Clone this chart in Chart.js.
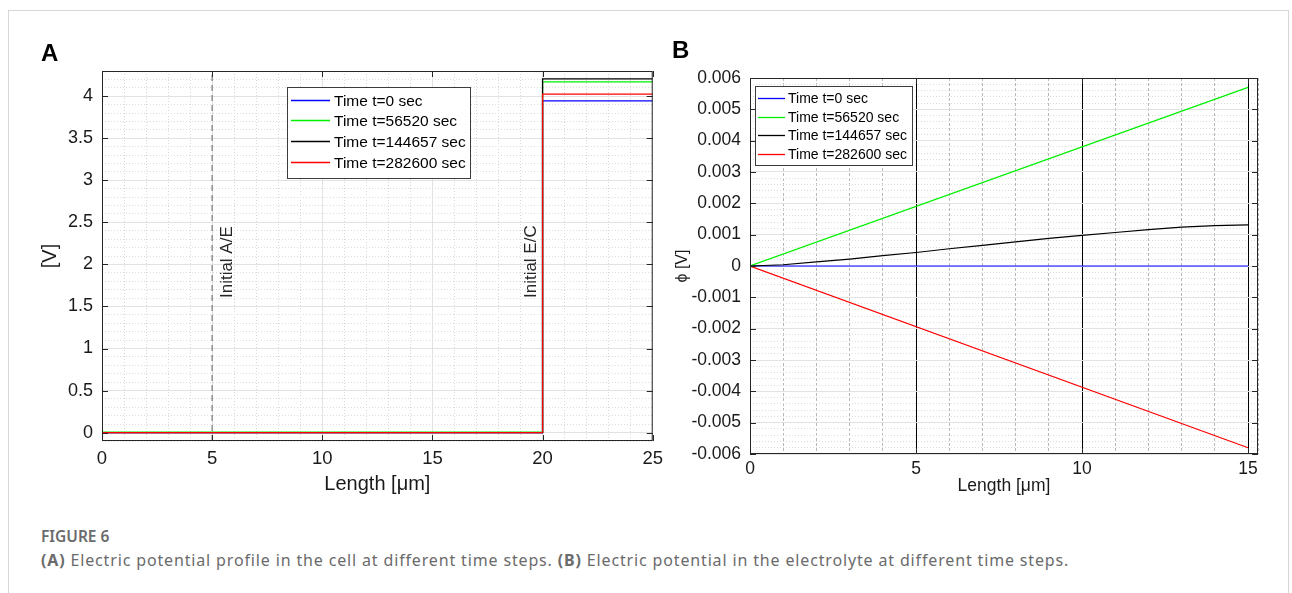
<!DOCTYPE html>
<html>
<head>
  <meta charset="UTF-8">
  <script src="https://cdn.jsdelivr.net/npm/chart.js@4.4.0/dist/chart.umd.min.js"></script>
  <style>
    body { margin: 0; background: #fff; width: 1292px; height: 593px; position: relative; overflow: hidden; }
    .frame { position: absolute; left: 8px; top: 10px; width: 1279px; height: 600px; border: 1px solid #d6d6d6; }
    canvas { position: absolute; top: 0; }
    .tag { position: absolute; font: bold 24px "Liberation Sans", Arial, sans-serif; color: #000; }
    .cap { position: absolute; left: 41px; font-family: "Noto Sans", sans-serif; color: #6b6b6b; white-space: nowrap; }
  </style>
</head>
<body>
  <div class="frame"></div>
  <canvas id="chartA" width="670" height="520" style="left:0px"></canvas>
  <canvas id="chartB" width="632" height="520" style="left:660px"></canvas>
  <div class="tag" style="left:41px; top:39px">A</div>
  <div class="tag" style="left:672px; top:36px">B</div>
  <div class="cap" style="top:525px; font-size:15.5px; font-weight:600">FIGURE 6</div>
  <div class="cap" style="top:549px; font-size:16px; letter-spacing:0.85px"><b>(A)</b> Electric potential profile in the cell at different time steps. <b>(B)</b> Electric potential in the electrolyte at different time steps.</div>

<script>
const FONT = '"Liberation Sans", Arial, sans-serif';
const seriesLabels = ['Time t=0 sec', 'Time t=56520 sec', 'Time t=144657 sec', 'Time t=282600 sec'];
const seriesColors = ['#0000ff', '#00f000', '#000000', '#ff0000'];

// panel A - potential across the cell
const lenA = [0, 20, 20, 25];
const vBlueA = [0, 0, 3.945, 3.945];
const vGreenA = [0.005, 0.005, 4.171, 4.171];
const vBlackA = [0, 0, 4.207, 4.207];
const vRedA = [0, 0, 4.024, 4.024];
const xTicksA = [0, 5, 10, 15, 20, 25];
const yTicksA = [0, 0.5, 1, 1.5, 2, 2.5, 3, 3.5, 4];
const xRangeA = [0, 25];
const yRangeA = [-0.1, 4.3];
const dashedAtA = [5];
const notesA = [{ at: 5, text: 'Initial A/E', side: 1 }, { at: 20, text: 'Initial E/C', side: -1 }];
const noteStartA = 1.6;

// panel B - potential in the electrolyte
const lenB = [0, 1, 2, 3, 4, 5, 6, 7, 8, 9, 10, 11, 12, 13, 14, 15];
const phiBlackB = [0, 0.00004, 0.00013, 0.00022, 0.00033, 0.00043, 0.00055, 0.00066, 0.00077, 0.00088, 0.00098, 0.00107, 0.00116, 0.00124, 0.00129, 0.00131];
const lenEndsB = [0, 15];
const phiBlueB = [0, 0];
const phiGreenB = [0, 0.0057];
const phiRedB = [0, -0.0058];
const xTicksB = [0, 5, 10, 15];
const yTicksB = [-0.006, -0.005, -0.004, -0.003, -0.002, -0.001, 0, 0.001, 0.002, 0.003, 0.004, 0.005, 0.006];
const xRangeB = [0, 15.3];
const yRangeB = [-0.006, 0.006];

function pts(xs, ys) { return xs.map((x, i) => ({ x: x, y: ys[i] })); }

function series(list, xs, width) {
  return list.map((ys, i) => ({
    label: seriesLabels[i],
    data: pts(Array.isArray(xs[0]) ? xs[i] : xs, ys),
    borderColor: seriesColors[i],
    borderWidth: width,
    pointRadius: 0,
    fill: false,
    order: 3 - i
  }));
}

const panelDecor = {
  id: 'panelDecor',
  afterDatasetsDraw(chart, args, o) {
    const { ctx, chartArea: a, scales } = chart;
    const line = (x1, y1, x2, y2) => { ctx.beginPath(); ctx.moveTo(x1, y1); ctx.lineTo(x2, y2); ctx.stroke(); };
    ctx.save();
    ctx.strokeStyle = '#262626';
    ctx.lineWidth = 1;
    ctx.strokeRect(a.left + 0.5, a.top + 0.5, a.right - a.left - 1, a.bottom - a.top - 1);
    scales.x.ticks.forEach(t => {
      const p = Math.round(scales.x.getPixelForValue(t.value)) + 0.5;
      line(p, a.bottom, p, a.bottom - 6); line(p, a.top, p, a.top + 6);
    });
    scales.y.ticks.forEach(t => {
      const p = Math.round(scales.y.getPixelForValue(t.value)) + 0.5;
      line(a.left, p, a.left + 6, p); line(a.right, p, a.right - 6, p);
    });
    (o.notes || []).forEach(n => {
      ctx.save();
      ctx.translate(scales.x.getPixelForValue(n.at) + n.side * o.noteGap[n.side > 0 ? 0 : 1], scales.y.getPixelForValue(o.noteStart));
      ctx.rotate(-Math.PI / 2);
      ctx.font = o.noteFont; ctx.fillStyle = '#262626';
      ctx.textAlign = 'left'; ctx.textBaseline = 'middle';
      ctx.fillText(n.text, 0, 0);
      ctx.restore();
    });
    const L = o.legend;
    const bx = a.left + L.dx, by = a.top + L.dy;
    ctx.fillStyle = '#fff';
    ctx.fillRect(bx, by, L.w, L.h);
    ctx.strokeStyle = '#3c3c3c';
    ctx.strokeRect(bx + 0.5, by + 0.5, L.w, L.h);
    ctx.font = L.font; ctx.textBaseline = 'middle'; ctx.textAlign = 'left';
    seriesLabels.forEach((lab, i) => {
      const ds = chart.data.datasets[i];
      const y = Math.round(by + L.first + i * L.step) + 0.5;
      ctx.strokeStyle = ds.borderColor; ctx.lineWidth = 1.3;
      line(bx + L.l0, y, bx + L.l1, y);
      ctx.fillStyle = '#000';
      ctx.fillText(lab, bx + L.tx, y + 1);
    });
    ctx.restore();
  }
};

function scalesFor(o) {
  return {
    xMinor: {
      type: 'linear', position: 'top', min: o.xr[0], max: o.xr[1], z: -1,
      afterFit: s => { s.height = 0; },
      ticks: { display: false, stepSize: o.xMinorStep },
      grid: { color: o.xMinorColor, drawTicks: false },
      border: { display: false, dash: o.xMinorDash }
    },
    yMinor: {
      type: 'linear', position: 'right', min: o.yr[0], max: o.yr[1], z: -1,
      afterFit: s => { s.width = 0; },
      ticks: { display: false, stepSize: o.yMinorStep },
      grid: { color: '#dcdcdc', drawTicks: false },
      border: { display: false, dash: [1, 2] }
    },
    x: {
      type: 'linear', position: 'bottom', min: o.xr[0], max: o.xr[1],
      afterBuildTicks: s => { s.ticks = o.xt.map(v => ({ value: v })); },
      afterFit: s => { s.height = o.xh; },
      grid: { color: o.xGridColor, drawTicks: false },
      border: { display: false },
      ticks: { color: '#1a1a1a', font: { family: FONT, size: o.xfs }, padding: o.xtp, maxRotation: 0, autoSkip: false, callback: v => String(v) },
      title: { display: true, text: 'Length [\u03bcm]', color: '#1a1a1a', font: { family: FONT, size: o.tfs }, padding: { top: o.xTitlePad, bottom: o.xTitlePad } }
    },
    y: {
      type: 'linear', position: 'left', min: o.yr[0], max: o.yr[1],
      afterBuildTicks: s => { s.ticks = o.yt.map(v => ({ value: v })); },
      afterFit: s => { s.width = o.yw; },
      grid: { color: '#e2e2e2', drawTicks: false },
      border: { display: false },
      ticks: { color: '#1a1a1a', font: { family: FONT, size: o.yfs }, padding: 9, autoSkip: false, callback: v => String(v) },
      title: { display: true, text: o.yTitle, color: '#1a1a1a', font: { family: FONT, size: o.ytfs }, padding: { top: o.yTitlePad, bottom: o.yTitlePad } }
    }
  };
}

new Chart(document.getElementById('chartA'), {
  type: 'line',
  data: {
    datasets: series([vBlueA, vGreenA, vBlackA, vRedA], lenA, 1.3).concat(dashedAtA.map(x => ({
      data: pts([x, x], yRangeA),
      borderColor: '#808080', borderWidth: 1.3, borderDash: [6, 4], pointRadius: 0, order: 5
    })))
  },
  options: {
    responsive: false, animation: false, devicePixelRatio: 1,
    layout: { padding: { left: 0, top: 71, right: 16, bottom: 0 } },
    plugins: {
      legend: { display: false }, tooltip: { enabled: false },
      panelDecor: {
        notes: notesA, noteStart: noteStartA, noteGap: [15, 11], noteFont: '17px ' + FONT,
        legend: { dx: 185, dy: 16, w: 183, h: 91, first: 12.5, step: 20.8, l0: 4, l1: 43, tx: 47, font: '15.5px ' + FONT }
      }
    },
    scales: scalesFor({
      xr: xRangeA, yr: yRangeA, xt: xTicksA, yt: yTicksA, xMinorStep: 1, yMinorStep: 0.1,
      xMinorColor: '#d8d8d8', xMinorDash: [1, 2], xGridColor: '#e2e2e2',
      xh: 79, yw: 102, xfs: 18.5, yfs: 18, tfs: 20, ytfs: 20, xtp: 7, xTitlePad: 24, yTitlePad: 38, yTitle: '[V]'
    })
  },
  plugins: [panelDecor]
});

new Chart(document.getElementById('chartB'), {
  type: 'line',
  data: {
    datasets: series([phiBlueB, phiGreenB, phiBlackB, phiRedB], [lenEndsB, lenEndsB, lenB, lenEndsB], 1.2)
  },
  options: {
    responsive: false, animation: false, devicePixelRatio: 1,
    layout: { padding: { left: 0, top: 78, right: 34, bottom: 0 } },
    plugins: {
      legend: { display: false }, tooltip: { enabled: false },
      panelDecor: {
        legend: { dx: 5, dy: 8, w: 157, h: 79, first: 12, step: 18.7, l0: 3, l1: 30, tx: 33, font: '14px ' + FONT }
      }
    },
    scales: scalesFor({
      xr: xRangeB, yr: yRangeB, xt: xTicksB, yt: yTicksB, xMinorStep: 1, yMinorStep: 0.0002,
      xMinorColor: '#b8b8b8', xMinorDash: [3, 2], xGridColor: '#000000',
      xh: 66, yw: 90, xfs: 17.5, yfs: 17.5, tfs: 17.5, ytfs: 16, xtp: 5, xTitlePad: 23, yTitlePad: 13, yTitle: '\u03d5 [V]'
    })
  },
  plugins: [panelDecor]
});
</script>
</body>
</html>
